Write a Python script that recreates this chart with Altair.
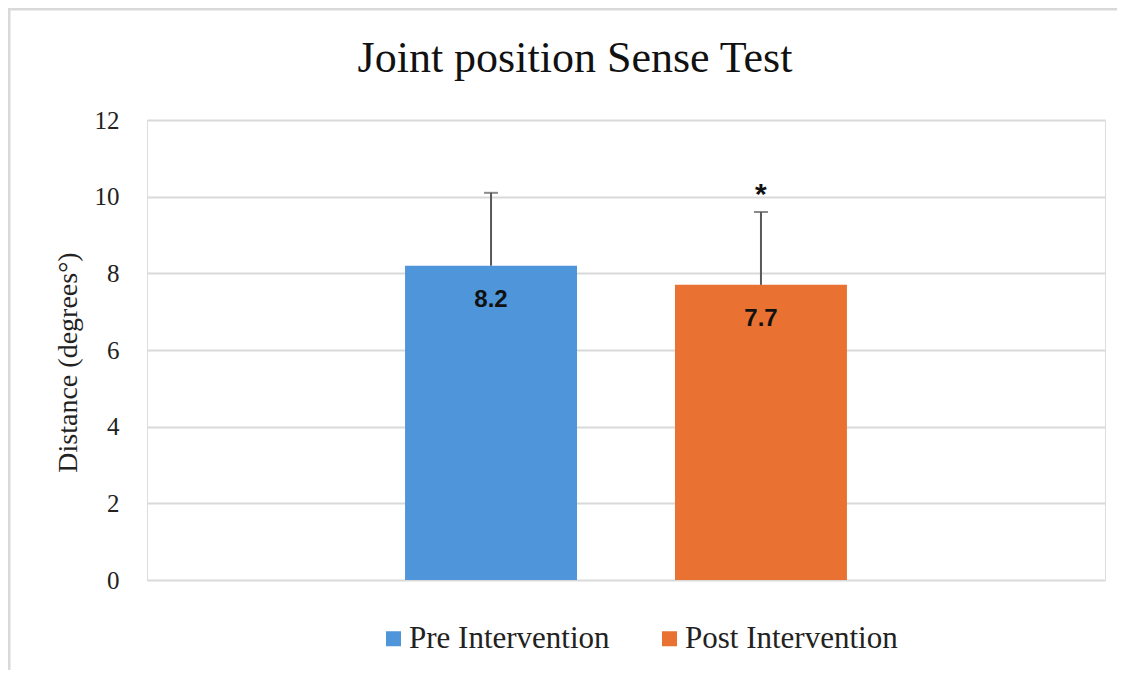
import altair as alt
import pandas as pd

groups = ["Pre Intervention", "Post Intervention"]
means = [8.2, 7.7]
sds = [1.9, 1.9]
value_labels = ["8.2", "7.7"]
sig_marks = ["", "*"]
colors = ["#4E95D9", "#E97132"]
y_ticks = [0, 2, 4, 6, 8, 10, 12]

df = pd.DataFrame({
    "group": groups,
    "mean": means,
    "sd": sds,
    "label": value_labels,
    "sig": sig_marks,
})
df["upper"] = df["mean"] + df["sd"]

SERIF = "Liberation Serif"

x = alt.X("group:N", sort=groups,
          scale=alt.Scale(paddingInner=0.363, paddingOuter=0.956), axis=None)

base = alt.Chart(df)

bars = base.mark_bar().encode(
    x=x,
    y=alt.Y("mean:Q", scale=alt.Scale(domain=[0, 12]),
            axis=alt.Axis(values=y_ticks, title="Distance (degrees°)",
                          grid=True, gridColor="#d9d9d9", gridWidth=2,
                          domain=False, ticks=False, labelPadding=28,
                          labelFont=SERIF, labelFontSize=25, labelColor="#222222",
                          titleFont=SERIF, titleFontSize=28, titleFontWeight="normal",
                          titleColor="#222222", titlePadding=12, titleY=242)),
    color=alt.Color("group:N", sort=groups,
                    scale=alt.Scale(domain=groups, range=colors),
                    legend=alt.Legend(orient="none", legendX=231, legendY=503,
                                      direction="horizontal", title=None,
                                      symbolType="square", symbolSize=225,
                                      symbolStrokeWidth=0,
                                      labelFont=SERIF, labelFontSize=31,
                                      labelLimit=0,
                                      labelColor="#222222", columnPadding=44,
                                      labelOffset=0)),
)

err = base.mark_rule(color="#595959", strokeWidth=2).encode(
    x=x, y="mean:Q", y2="upper:Q")

cap = base.mark_tick(color="#595959", thickness=2, size=14).encode(
    x=x, y="upper:Q")

lab = base.mark_text(font="Liberation Sans", fontWeight="bold", fontSize=24,
                     baseline="middle", dy=34, color="#111111").encode(
    x=x, y="mean:Q", text="label:N")

sig = base.mark_text(font="Liberation Sans", fontWeight="bold", fontSize=30,
                     baseline="bottom", dy=-2, color="#111111").encode(
    x=x, y="upper:Q", text="sig:N")

frame_src = alt.Data(values=[{"k": 0}])
frame_top = alt.Chart(frame_src).mark_rule(color="#d9d9d9", strokeWidth=3).encode(
    x=alt.value(-139), x2=alt.value(1000), y=alt.value(-111))
frame_left = alt.Chart(frame_src).mark_rule(color="#d9d9d9", strokeWidth=3).encode(
    x=alt.value(-138), y=alt.value(-112), y2=alt.value(560))

chart = alt.layer(frame_top, frame_left, bars, err, cap, lab, sig).properties(
    width=958, height=460,
    title=alt.TitleParams("Joint position Sense Test", font=SERIF, fontSize=44,
                          fontWeight="normal", color="#111111", anchor="middle",
                          frame="group", dx=-51, dy=114, offset=40),
    padding={"left": 139, "top": 112, "right": 12, "bottom": 90},
    autosize=alt.AutoSizeParams(type="none"),
).configure_view(stroke=None).configure(background="white")

chart.save("out.html", embed_options={"renderer": "svg", "actions": False})
